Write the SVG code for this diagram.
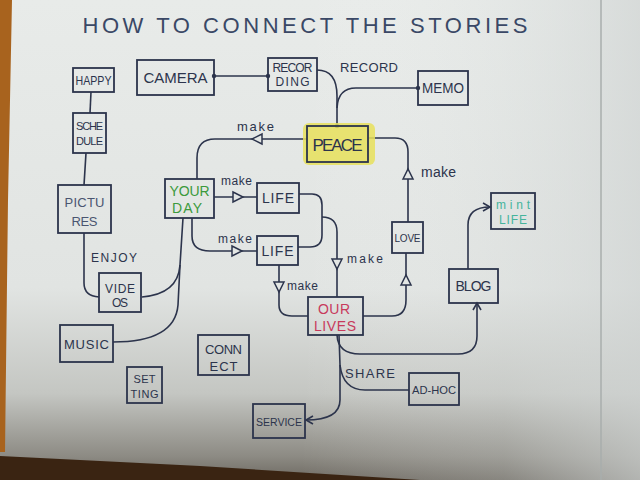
<svg xmlns="http://www.w3.org/2000/svg" width="640" height="480" viewBox="0 0 640 480">
<defs>
<linearGradient id="paper" x1="0" y1="0" x2="0" y2="1">
<stop offset="0" stop-color="#e8ebe9"/>
<stop offset="0.6" stop-color="#e1e4e2"/>
<stop offset="0.82" stop-color="#c4c6c2"/>
<stop offset="0.95" stop-color="#8d8b84"/>
<stop offset="1" stop-color="#6e6a62"/>
</linearGradient>
<linearGradient id="lightR" x1="0" y1="0" x2="1" y2="0">
<stop offset="0" stop-color="#ffffff" stop-opacity="0"/>
<stop offset="0.6" stop-color="#d8dcdb" stop-opacity="0.25"/>
<stop offset="1" stop-color="#d0d4d3" stop-opacity="0.7"/>
</linearGradient>
<marker id="chev" markerWidth="10" markerHeight="10" refX="8" refY="5" orient="auto" markerUnits="userSpaceOnUse">
<path d="M1,1 L8,5 L1,9" fill="none" stroke="#2c344c" stroke-width="1.6"/>
</marker>
<path id="tri" d="M-5,-5 L5,0 L-5,5 Z"/>
<style>
.box{fill:none;stroke:#2c344c;stroke-width:1.8}
.t{font-family:"Liberation Sans","DejaVu Sans",sans-serif;fill:#2c344c;text-anchor:middle}
.lbl{font-family:"Liberation Sans","DejaVu Sans",sans-serif;fill:#2c344c}
.c{fill:none;stroke:#2c344c;stroke-width:1.6}
.tr{fill:#e3e6e4;stroke:#2c344c;stroke-width:1.5}
.dot{fill:#2c344c}
</style>
</defs>

<!-- background -->
<rect x="0" y="0" width="640" height="480" fill="url(#paper)"/>
<rect x="300" y="0" width="340" height="480" fill="url(#lightR)"/>
<line x1="601" y1="0" x2="601" y2="480" stroke="#a9aeac" stroke-width="1.5"/>
<polygon points="0,0 12,0 8,200 5,452 0,452" fill="#a8631e"/>
<polygon points="0,456 200,466 420,480 0,480" fill="#3a2412"/>

<!-- title -->
<text class="t" x="305" y="33" font-size="22" textLength="445" lengthAdjust="spacing" fill="#3a4866" style="fill:#3a4866">HOW TO CONNECT THE STORIES</text>

<!-- connectors -->
<g id="connectors">
<path class="c" d="M91,92 L90,113"/>
<path class="c" d="M86,153 L84,185"/>
<path class="c" d="M84,233 L84,283 Q84,296 99,297"/>
<path class="c" d="M214,76 L268,76"/>
<circle class="dot" cx="214" cy="76" r="2.2"/>
<circle class="dot" cx="268" cy="76" r="2.2"/>
<path class="c" d="M317,70 Q337,70 337,96 L337,126"/>
<circle class="dot" cx="337" cy="126" r="2.2"/>
<path class="c" d="M337,108 Q338,88 356,88 L418,88"/>
<circle class="dot" cx="418" cy="88" r="2.2"/>
<path class="c" d="M307,139 L215,139 Q197,139 197,158 L197,179"/>
<use href="#tri" class="tr" transform="translate(257,139) rotate(180)"/>
<path class="c" d="M368,138 L395,138 Q408,138 408,152 L408,222"/>
<use href="#tri" class="tr" transform="translate(408,174) rotate(-90)"/>
<path class="c" d="M363,316 L392,316 Q406,316 406,300 L406,253"/>
<use href="#tri" class="tr" transform="translate(406,280) rotate(-90)"/>
<path class="c" d="M214,197 L257,197"/>
<use href="#tri" class="tr" transform="translate(238,197)"/>
<path class="c" d="M192,218 L192,236 Q192,251 210,251 L257,251"/>
<use href="#tri" class="tr" transform="translate(237,251)"/>
<path class="c" d="M299,194 L312,194 Q322,194 322,205 L322,235 Q322,247 310,247 L298,247"/>
<path class="c" d="M322,217 Q337,217 337,232 L337,297"/>
<use href="#tri" class="tr" transform="translate(337,264) rotate(90)"/>
<path class="c" d="M279,265 L279,305 Q279,316 292,316 L308,316"/>
<use href="#tri" class="tr" transform="translate(279,287) rotate(90)"/>
<path class="c" d="M183,218 L180,265 Q178,294 142,297"/>
<path class="c" d="M180,265 L178,305 Q175,342 113,342"/>
<path class="c" d="M337,335 Q338,354 360,354 L458,354 Q477,354 477,336 L477,303" marker-end="url(#chev)"/>
<path class="c" d="M468,269 L468,225 Q468,207 490,207" marker-end="url(#chev)"/>
<path class="c" d="M339,335 L340,365 Q343,390 365,390 L409,390"/>
<path class="c" d="M340,365 L340,400 Q340,420 306,420" marker-end="url(#chev)"/>
</g>

<!-- labels -->
<g id="labels">
<text class="lbl" x="340" y="72" font-size="13" textLength="58" lengthAdjust="spacing">RECORD</text>
<text class="lbl" x="237" y="131" font-size="13" textLength="37" lengthAdjust="spacing">make</text>
<text class="lbl" x="421" y="177" font-size="14" textLength="35" lengthAdjust="spacing">make</text>
<text class="lbl" x="221" y="185" font-size="12" textLength="31" lengthAdjust="spacing">make</text>
<text class="lbl" x="218" y="243" font-size="12" textLength="34" lengthAdjust="spacing">make</text>
<text class="lbl" x="287" y="290" font-size="12" textLength="31" lengthAdjust="spacing">make</text>
<text class="lbl" x="347" y="263" font-size="12" textLength="36" lengthAdjust="spacing">make</text>
<text class="lbl" x="91" y="262" font-size="12" textLength="46" lengthAdjust="spacing">ENJOY</text>
<text class="lbl" x="345" y="378" font-size="13" textLength="50" lengthAdjust="spacing">SHARE</text>
</g>

<!-- nodes -->
<g id="happy"><rect class="box" x="73" y="68" width="41" height="24"/><text class="t" x="93.5" y="85" font-size="12" textLength="36" lengthAdjust="spacingAndGlyphs">HAPPY</text></g>
<g id="camera"><rect class="box" x="137" y="60" width="77" height="35"/><text class="t" x="175.5" y="83" font-size="15" textLength="64" lengthAdjust="spacing">CAMERA</text></g>
<g id="recording"><rect class="box" x="268" y="58" width="49" height="33"/><text class="t" x="292.5" y="72" font-size="12" textLength="40" lengthAdjust="spacing">RECOR</text><text class="t" x="292.5" y="86" font-size="12" textLength="34" lengthAdjust="spacing">DING</text></g>
<g id="memo"><rect class="box" x="418" y="71" width="50" height="34"/><text class="t" x="443" y="93" font-size="14" textLength="42" lengthAdjust="spacingAndGlyphs">MEMO</text></g>
<g id="schedule"><rect class="box" x="73" y="113" width="33" height="40"/><text class="t" x="89.5" y="130" font-size="11" textLength="27" lengthAdjust="spacing">SCHE</text><text class="t" x="89.5" y="145" font-size="11" textLength="27" lengthAdjust="spacing">DULE</text></g>
<g id="peace"><rect x="303" y="123" width="72" height="42" rx="6" fill="#e7e15a" opacity="0.85"/><rect class="box" x="307" y="126" width="61" height="36"/><text class="t" x="337.5" y="151" font-size="17" textLength="50" lengthAdjust="spacing">PEACE</text></g>
<g id="yourday"><rect class="box" x="165" y="179" width="49" height="39"/><text class="t" x="189.5" y="196" font-size="14" textLength="40" lengthAdjust="spacing" style="fill:#3c9a3c">YOUR</text><text class="t" x="187" y="213" font-size="14" textLength="30" lengthAdjust="spacing" style="fill:#3c9a3c">DAY</text></g>
<g id="life1"><rect class="box" x="257" y="183" width="42" height="30"/><text class="t" x="278" y="203" font-size="14" textLength="32" lengthAdjust="spacing">LIFE</text></g>
<g id="life2"><rect class="box" x="257" y="236" width="41" height="29"/><text class="t" x="277.5" y="256" font-size="14" textLength="32" lengthAdjust="spacing">LIFE</text></g>
<g id="pictures"><rect class="box" x="58" y="185" width="53" height="48"/><text class="t" x="84.5" y="207" font-size="13" textLength="40" lengthAdjust="spacing" style="fill:#4a5570">PICTU</text><text class="t" x="84.5" y="226" font-size="13" textLength="26" lengthAdjust="spacing" style="fill:#4a5570">RES</text></g>
<g id="mintlife"><rect class="box" x="491" y="193" width="44" height="36"/><text class="t" x="513" y="209" font-size="12" textLength="34" lengthAdjust="spacing" style="fill:#45b49c">mint</text><text class="t" x="513" y="224" font-size="12" textLength="28" lengthAdjust="spacing" style="fill:#45b49c">LIFE</text></g>
<g id="love"><rect class="box" x="392" y="222" width="31" height="31"/><text class="t" x="407.5" y="242" font-size="10" textLength="26" lengthAdjust="spacing">LOVE</text></g>
<g id="videos"><rect class="box" x="99" y="273" width="42" height="39"/><text class="t" x="120" y="293" font-size="12" textLength="30" lengthAdjust="spacing">VIDE</text><text class="t" x="120" y="307" font-size="12" textLength="16" lengthAdjust="spacing">OS</text></g>
<g id="blog"><rect class="box" x="449" y="269" width="49" height="34"/><text class="t" x="473.5" y="291" font-size="14" textLength="36" lengthAdjust="spacing">BLOG</text></g>
<g id="ourlives"><rect class="box" x="308" y="297" width="55" height="38"/><text class="t" x="334" y="314" font-size="14" textLength="32" lengthAdjust="spacing" style="fill:#c83a5c">OUR</text><text class="t" x="335" y="331" font-size="14" textLength="42" lengthAdjust="spacing" style="fill:#c83a5c">LIVES</text></g>
<g id="music"><rect class="box" x="60" y="325" width="53" height="37"/><text class="t" x="86.5" y="349" font-size="13" textLength="45" lengthAdjust="spacing">MUSIC</text></g>
<g id="connect"><rect class="box" x="198" y="335" width="51" height="40"/><text class="t" x="223.5" y="354" font-size="13" textLength="37" lengthAdjust="spacing">CONN</text><text class="t" x="223.5" y="371" font-size="13" textLength="28" lengthAdjust="spacing">ECT</text></g>
<g id="setting"><rect class="box" x="127" y="367" width="35" height="36"/><text class="t" x="144.5" y="383" font-size="11" textLength="22" lengthAdjust="spacing">SET</text><text class="t" x="144.5" y="398" font-size="11" textLength="28" lengthAdjust="spacing">TING</text></g>
<g id="adhoc"><rect class="box" x="409" y="373" width="50" height="32"/><text class="t" x="434" y="394" font-size="11" textLength="44" lengthAdjust="spacingAndGlyphs">AD-HOC</text></g>
<g id="service"><rect class="box" x="253" y="404" width="52" height="34"/><text class="t" x="279" y="426" font-size="10" textLength="46" lengthAdjust="spacingAndGlyphs">SERVICE</text></g>
</svg>
